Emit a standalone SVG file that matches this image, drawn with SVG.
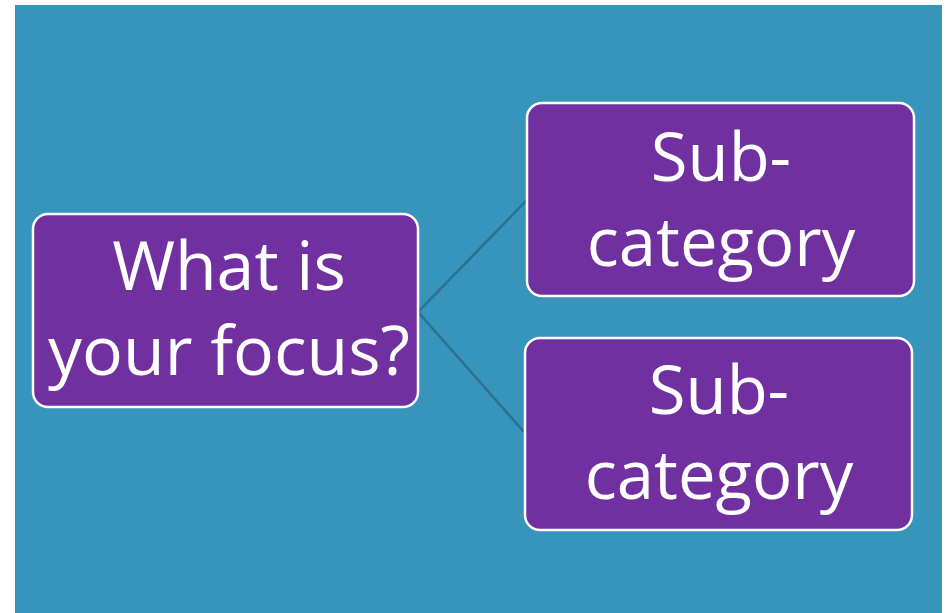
<svg xmlns="http://www.w3.org/2000/svg" width="948" height="613" viewBox="0 0 948 613">
  <style>
    .node rect { fill: #7030A0; stroke: #FFFFFF; stroke-width: 2.5; }
    .node text { fill: #FFFFFF; font-family: "Open Sans", "Liberation Sans", sans-serif; text-anchor: middle; }
    .big { font-size: 68px; }
    .sub { font-size: 67px; }
    .links line { stroke: #2B7090; stroke-width: 2.5; }
  </style>
  <rect x="0" y="0" width="948" height="613" fill="#FFFFFF"/>
  <rect x="15" y="5" width="927" height="608" fill="#3794BA"/>
  <g class="links">
    <line x1="418" y1="312" x2="527" y2="200"/>
    <line x1="418" y1="312" x2="525" y2="433"/>
  </g>
  <g id="focus" class="node">
    <rect x="33" y="214" width="385" height="193" rx="15"/>
    <text class="big" x="229" y="290">What is</text>
    <text class="big" x="229" y="375">your focus?</text>
  </g>
  <g id="sub1" class="node">
    <rect x="527" y="103" width="387" height="193" rx="15"/>
    <text class="sub" x="721" y="181">Sub-</text>
    <text class="sub" x="721" y="266">category</text>
  </g>
  <g id="sub2" class="node">
    <rect x="525" y="338" width="387" height="192" rx="15"/>
    <text class="sub" x="719" y="414">Sub-</text>
    <text class="sub" x="719" y="499">category</text>
  </g>
</svg>
